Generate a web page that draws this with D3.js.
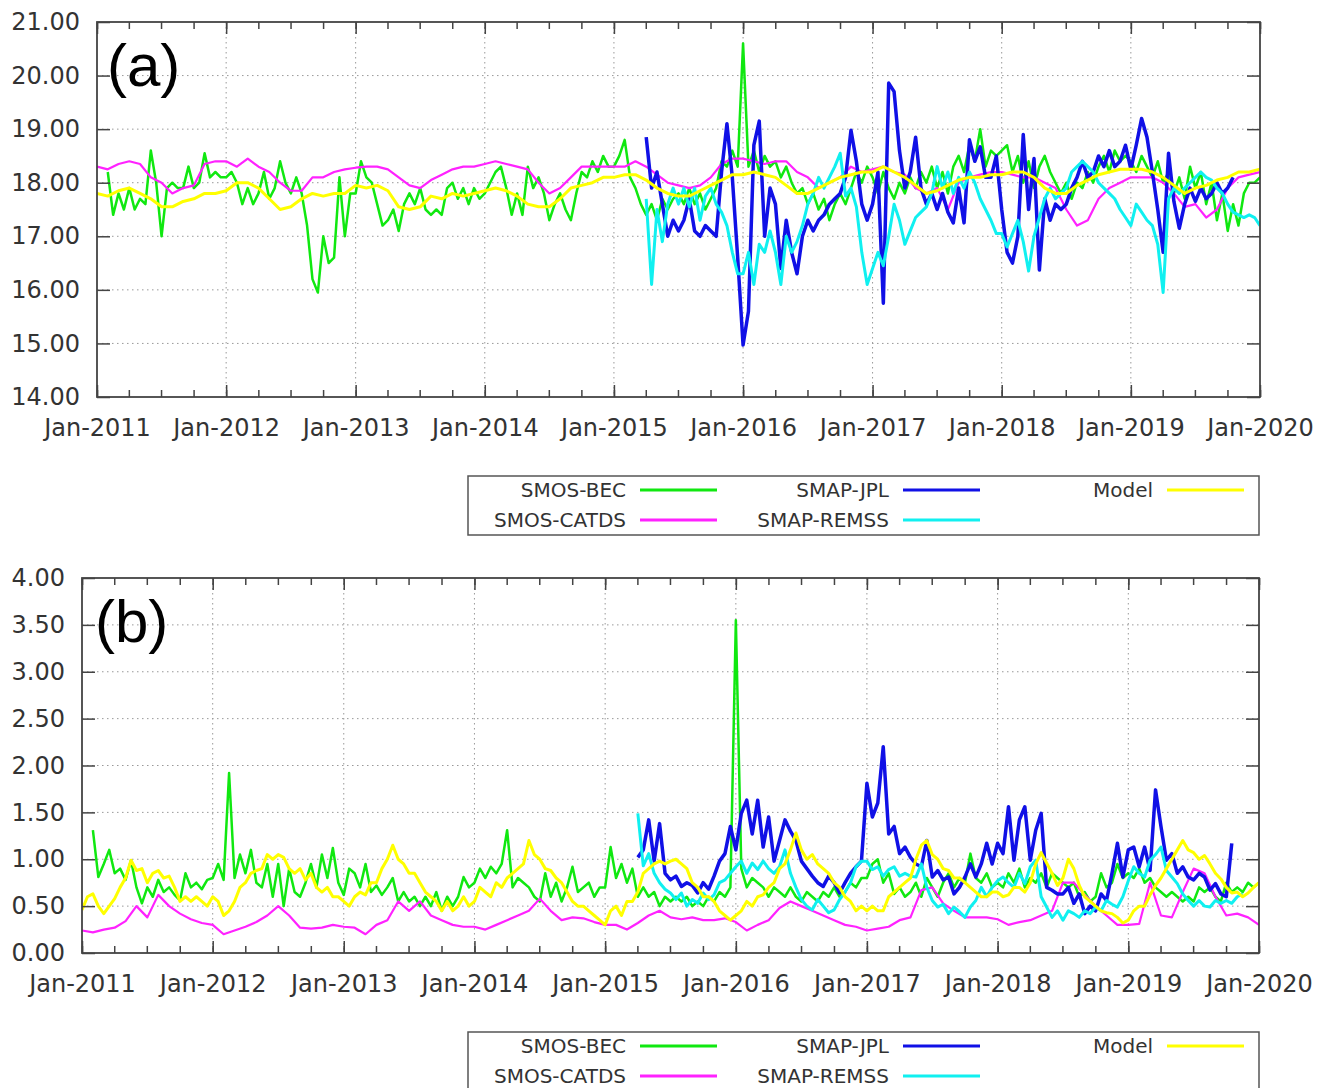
<!DOCTYPE html>
<html>
<head>
<meta charset="UTF-8">
<title>SSS time series</title>
<style>
  body { margin: 0; background: #fff; }
  svg text { font-family: "DejaVu Sans", sans-serif; }
  .axis text { font-size: 24px; fill: #333; }
  .axis line { stroke: #444; stroke-width: 1.5; }
  .axis path { display: none; }
  .grid line { stroke: #999; stroke-width: 1; stroke-dasharray: 1.5,3.5; }
  .legend text { font-size: 20px; fill: #333; }
  .panel-label { font-family: "Liberation Sans", Arial, sans-serif !important; font-size: 60px; fill: #000; }
</style>
</head>
<body>
<svg id="chart" width="1317" height="1088"></svg>

<script src="https://d3js.org/d3.v7.min.js"></script>
<script>
// time step of the series, in years
const HALF = 1 / 24, MONTH = 1 / 12;

// ---- panel (a) ----
const smosBecA = [
  18.2, 17.4, 17.8, 17.5, 17.9, 17.5, 17.7, 17.6, 18.6, 18.0, 17.0, 17.9, 18.0, 17.9, 17.9, 18.3, 17.9, 18.0, 18.55, 18.1, 18.2, 18.1,
  18.1, 18.2, 18.0, 17.6, 17.9, 17.6, 17.8, 18.2, 17.7, 17.9, 18.4, 18.0, 17.8, 18.1, 17.8, 17.2, 16.2, 15.95, 17.0, 16.5, 16.6, 18.1, 17.0, 17.8,
  17.8, 18.4, 18.1, 18.0, 17.6, 17.2, 17.3, 17.5, 17.1, 17.6, 17.8, 17.6, 17.9, 17.5, 17.4, 17.5, 17.4, 17.9, 18.0, 17.7, 17.9, 17.6, 17.9, 17.7,
  17.8, 18.0, 18.2, 18.3, 17.9, 17.4, 17.8, 17.4, 18.3, 17.9, 18.1, 17.8, 17.3, 17.6, 17.8, 17.5, 17.3, 17.8, 18.2, 18.1, 18.4, 18.2, 18.5, 18.3,
  18.3, 18.5, 18.8, 18.1, 17.9, 17.6, 17.4, 17.6, 17.3, 17.7, 17.5, 17.7, 17.8, 17.6, 17.9, 17.6, 17.8, 17.5, 17.7, 17.9, 18.4, 18.3, 18.6, 18.3,
  20.6, 18.3, 18.6, 18.2, 18.5, 18.3, 18.4, 18.1, 18.3, 18.0, 17.8, 17.9, 17.6, 17.8, 17.5, 17.7, 17.3, 17.6, 17.8, 17.6, 17.9, 18.2, 18.0, 18.3,
  18.1, 17.8, 18.2, 17.9, 17.7, 18.0, 17.8, 18.1, 17.9, 18.2, 18.0, 18.3, 17.9, 18.2, 17.8, 18.3, 18.5, 18.2, 18.7, 18.4, 19.0, 18.3, 18.6, 18.5,
  18.6, 18.7, 18.2, 18.5, 18.0, 18.4, 17.9, 18.3, 18.5, 18.2, 18.0, 17.8, 18.0, 17.7, 18.0, 17.9, 18.2, 18.0, 18.3, 18.5, 18.2, 18.6, 18.4, 18.5,
  18.4, 18.2, 18.5, 18.3, 18.1, 18.4, 18.0, 18.2, 17.8, 18.1, 17.7, 18.3, 17.9, 18.2, 17.6, 18.0, 17.3, 17.8, 17.1, 17.6, 17.2, 17.8, 18.0, 18.0,
  18.1
];
const smosCatdsA = [
  18.3, 18.25, 18.35, 18.4, 18.35, 18.1, 18.0, 17.8, 17.9, 17.95, 18.35, 18.4,
  18.4, 18.3, 18.45, 18.3, 18.2, 18.0, 17.85, 17.85, 18.1, 18.1, 18.2, 18.25,
  18.28, 18.3, 18.3, 18.25, 18.1, 17.95, 17.9, 18.05, 18.15, 18.25, 18.3, 18.3,
  18.35, 18.4, 18.35, 18.3, 18.25, 18.0, 17.8, 17.9, 18.1, 18.3, 18.3, 18.3,
  18.3, 18.3, 18.4, 18.3, 18.15, 18.0, 17.95, 17.9, 17.95, 18.1, 18.35, 18.45,
  18.45, 18.4, 18.35, 18.4, 18.4, 18.2, 18.1, 17.9, 18.0, 18.1, 18.3, 18.2,
  18.25, 18.3, 18.2, 18.15, 17.9, 17.8, 17.9, 17.5, 18.0, 18.1, 18.15, 18.2,
  18.2, 18.15, 18.1, 18.1, 18.0, 17.9, 17.5, 17.2, 17.3, 17.7, 17.9, 18.0,
  18.1, 18.1, 18.1, 18.0, 17.8, 17.55, 17.6, 17.35, 17.5, 17.9, 18.1, 18.15,
  18.2
];
const smapJplA = [
  18.85, 17.9, 18.2, 17.6, 17.0, 17.3, 17.1, 17.3, 17.7, 17.1, 17.0, 17.2, 17.1, 17.0, 18.2, 19.1, 18.1, 16.6,
  14.97, 15.6, 18.7, 19.15, 17.0, 17.9, 17.6, 16.4, 17.3, 16.7, 16.3, 17.0, 17.3, 17.1, 17.3, 17.4, 17.6, 17.7, 17.8, 18.1, 18.98, 18.4, 17.6, 17.3,
  17.6, 18.2, 15.75, 19.86, 19.7, 18.6, 17.9, 18.2, 18.85, 17.9, 17.6, 17.8, 17.5, 17.8, 17.45, 17.25, 17.9, 17.25, 18.8, 18.4, 18.67, 18.1, 18.1, 18.5,
  17.5, 16.7, 16.5, 17.0, 18.9, 17.5, 18.45, 16.37, 17.7, 17.3, 17.6, 17.5, 17.6, 17.9, 18.1, 18.4, 18.1, 18.2, 18.5, 18.3, 18.6, 18.3, 18.4, 18.7,
  18.25, 18.7, 19.2, 18.85, 18.2, 17.5, 16.7, 18.55, 17.65, 17.15, 17.6, 17.9, 17.65, 17.9, 17.7, 17.8, 18.0, 17.8, 17.9, 18.1
];
const smapRemssA = [
  17.7, 16.1, 17.5, 16.9, 17.6, 17.9, 17.6, 17.9, 17.55, 17.9, 17.3, 17.75, 17.9, 17.6, 17.45, 17.2, 16.7, 16.3,
  16.3, 16.7, 16.1, 16.85, 16.7, 17.1, 16.7, 16.1, 17.0, 16.7, 16.9, 17.2, 17.6, 17.8, 18.1, 17.9, 18.1, 18.3, 18.55, 17.75, 17.9, 17.55, 16.7, 16.1,
  16.4, 16.7, 16.45, 17.0, 17.6, 17.3, 16.85, 17.1, 17.35, 17.45, 17.55, 17.8, 18.3, 17.9, 18.2, 17.8, 18.1, 17.9, 18.2, 18.0, 17.7, 17.5, 17.3, 17.05,
  17.05, 16.8, 17.05, 17.3, 16.9, 16.35, 17.0, 17.35, 17.7, 17.9, 17.7, 17.8, 17.9, 18.2, 18.3, 18.4, 18.3, 18.2, 18.0, 17.9, 17.8, 17.7, 17.5, 17.35,
  17.2, 17.6, 17.45, 17.3, 17.2, 16.85, 15.95, 17.7, 17.9, 17.8, 17.9, 18.0, 18.1, 18.2, 18.1, 18.05, 17.9, 17.8, 17.6, 17.45, 17.4, 17.35, 17.4, 17.35,
  17.2
];
const modelA = [
  17.8, 17.75, 17.85, 17.9, 17.8, 17.7, 17.55, 17.55, 17.65, 17.7, 17.8, 17.8,
  17.85, 18.0, 18.0, 17.9, 17.7, 17.5, 17.55, 17.7, 17.8, 17.75, 17.8, 17.8,
  17.95, 17.9, 17.95, 17.85, 17.55, 17.5, 17.55, 17.75, 17.7, 17.8, 17.75, 17.8,
  17.85, 17.9, 17.85, 17.75, 17.6, 17.55, 17.55, 17.7, 17.9, 17.95, 18.0, 18.1,
  18.1, 18.15, 18.15, 18.05, 17.9, 17.8, 17.75, 17.75, 17.85, 17.95, 18.05, 18.15,
  18.15, 18.2, 18.15, 18.1, 17.95, 17.8, 17.8, 17.9, 18.0, 18.1, 18.15, 18.2,
  18.2, 18.3, 18.2, 18.1, 17.95, 17.8, 17.85, 17.95, 18.05, 18.1, 18.1, 18.15,
  18.15, 18.2, 18.2, 18.1, 17.9, 17.8, 17.8, 17.95, 18.05, 18.15, 18.2, 18.25,
  18.25, 18.25, 18.2, 18.1, 17.95, 17.8, 17.9, 17.95, 18.05, 18.1, 18.2, 18.2,
  18.25
];

// ---- panel (b) ----
const smosBecB = [
  1.31, 0.81, 0.95, 1.1, 0.85, 0.9, 0.78, 0.99, 0.7, 0.53, 0.7, 0.6, 0.78, 0.65, 0.7, 0.62, 0.56, 0.85, 0.7, 0.75, 0.68, 0.78,
  0.8, 0.95, 0.78, 1.92, 0.8, 1.05, 0.85, 1.1, 0.75, 0.7, 0.95, 0.6, 0.95, 0.5, 0.9, 0.65, 0.6, 0.75, 0.95, 0.7, 1.05, 0.8, 1.12, 0.75,
  0.62, 0.9, 0.85, 0.7, 0.95, 0.65, 0.72, 0.62, 0.7, 0.8, 0.55, 0.65, 0.55, 0.6, 0.5, 0.6, 0.5, 0.65, 0.45, 0.6, 0.5, 0.6, 0.81, 0.7,
  0.75, 0.9, 0.8, 0.92, 0.85, 0.95, 1.31, 0.7, 0.8, 0.75, 0.7, 0.6, 0.55, 0.85, 0.6, 0.75, 0.55, 0.7, 0.92, 0.65, 0.7, 0.75, 0.6, 0.7,
  0.7, 1.13, 0.8, 0.95, 0.75, 0.9, 0.6, 0.7, 0.6, 0.65, 0.5, 0.6, 0.55, 0.6, 0.55, 0.6, 0.5, 0.55, 0.5, 0.6, 0.55, 0.65, 0.6, 0.7,
  3.55, 0.9, 0.7, 0.8, 0.75, 0.7, 0.6, 0.7, 0.65, 0.6, 0.7, 0.6, 0.55, 0.65, 0.6, 0.55, 0.65, 0.6, 0.7, 0.6, 0.65, 0.75, 0.7, 0.8,
  0.8, 0.95, 1.0, 0.75, 0.85, 0.63, 0.7, 0.6, 0.65, 0.75, 0.6, 0.8, 0.7, 0.6, 0.75, 0.85, 0.7, 0.8, 0.75, 1.06, 0.8, 0.75, 0.85, 0.7,
  0.75, 0.7, 0.85, 0.75, 0.9, 0.7, 0.8, 0.75, 0.85, 0.7, 0.85, 0.8, 0.75, 0.7, 0.75, 0.6, 0.65, 0.55, 0.6, 0.85, 0.7, 0.75, 0.95, 0.8,
  0.85, 0.8, 0.9, 0.75, 0.8, 0.7, 0.65, 0.6, 0.65, 0.6, 0.55, 0.6, 0.55, 0.7, 0.65, 0.7, 0.6, 0.55, 0.75, 0.65, 0.7, 0.65, 0.75, 0.7,
  0.75
];
const smosCatdsB = [
  0.24, 0.22, 0.25, 0.27, 0.34, 0.5, 0.38, 0.62, 0.5, 0.42, 0.36, 0.32,
  0.3, 0.2, 0.24, 0.28, 0.33, 0.4, 0.5, 0.4, 0.27, 0.26, 0.27, 0.3,
  0.28, 0.27, 0.2, 0.3, 0.35, 0.55, 0.45, 0.55, 0.4, 0.35, 0.3, 0.28,
  0.28, 0.25, 0.3, 0.35, 0.4, 0.45, 0.58, 0.45, 0.35, 0.38, 0.37, 0.33,
  0.3, 0.3, 0.25, 0.32, 0.4, 0.45, 0.38, 0.36, 0.38, 0.35, 0.35, 0.37,
  0.33, 0.24, 0.3, 0.35, 0.48, 0.55, 0.5, 0.45, 0.4, 0.35, 0.3, 0.28,
  0.24, 0.26, 0.28, 0.35, 0.38, 0.67, 0.7, 0.53, 0.45, 0.38, 0.38, 0.38,
  0.36, 0.3, 0.33, 0.35, 0.4, 0.45, 0.75, 0.75, 0.62, 0.5, 0.4, 0.3,
  0.3, 0.31, 0.75, 0.4, 0.38, 0.65, 0.9, 0.85, 0.6, 0.4, 0.42, 0.38,
  0.3
];
const smapJplB = [
  1.02, 1.1, 1.42, 0.98, 1.38, 0.85, 0.78, 0.82, 0.71, 0.75, 0.72, 0.64, 0.75, 0.68, 0.82, 0.98, 1.06, 1.35,
  1.1, 1.49, 1.63, 1.27, 1.63, 1.13, 1.45, 0.98, 1.2, 1.42, 1.3, 1.2, 0.98, 0.9, 0.82, 0.75, 0.71, 0.82, 0.75, 0.64, 0.75, 0.85, 0.92, 0.98,
  1.81, 1.45, 1.6, 2.2, 1.27, 1.35, 1.06, 1.13, 1.02, 0.95, 0.92, 1.2, 0.81, 0.88, 0.78, 0.81, 0.63, 0.7, 0.81, 0.95, 0.81, 0.95, 1.17, 0.95,
  1.17, 1.06, 1.56, 0.99, 1.42, 1.56, 0.99, 1.31, 1.49, 0.7, 0.67, 0.63, 0.63, 0.7, 0.53, 0.63, 0.42, 0.5, 0.45, 0.63, 0.56, 0.85, 1.17, 0.81,
  1.1, 1.13, 0.92, 1.13, 0.88, 1.74, 1.35, 0.99, 1.06, 0.85, 0.92, 0.81, 0.78, 0.85, 0.81, 0.67, 0.74, 0.63, 0.6, 1.17
];
const smapRemssB = [
  1.49, 0.93, 1.06, 0.85, 0.75, 0.68, 0.64, 0.57, 0.64, 0.5, 0.57, 0.53, 0.64, 0.57, 0.62, 0.75, 0.78, 0.85,
  0.92, 0.98, 0.85, 0.96, 0.89, 0.98, 0.9, 0.85, 0.92, 1.1, 0.85, 0.7, 0.57, 0.5, 0.46, 0.57, 0.5, 0.43, 0.46, 0.57, 0.65, 0.75, 0.92, 0.98,
  0.98, 0.89, 0.92, 0.82, 0.89, 0.92, 0.82, 0.85, 0.82, 0.81, 0.95, 0.7, 0.56, 0.49, 0.52, 0.42, 0.49, 0.44, 0.38, 0.49, 0.56, 0.7, 0.6, 0.7,
  0.77, 0.81, 0.75, 0.7, 0.85, 0.74, 0.92, 0.99, 0.6, 0.49, 0.38, 0.45, 0.35, 0.45, 0.42, 0.38, 0.45, 0.42, 0.49, 0.45, 0.56, 0.52, 0.49, 0.6,
  0.77, 0.92, 0.85, 0.81, 0.99, 1.05, 1.13, 0.88, 0.81, 0.74, 0.63, 0.56, 0.5, 0.56, 0.5, 0.49, 0.56, 0.53, 0.56, 0.53, 0.6, 0.63
];
const modelB = [
  0.46, 0.6, 0.63, 0.5, 0.42, 0.5, 0.58, 0.7, 0.8, 0.99, 0.88, 0.9, 0.75, 0.85, 0.88, 0.8, 0.82, 0.7, 0.55, 0.6, 0.55, 0.6, 0.55, 0.5,
  0.6, 0.55, 0.4, 0.45, 0.55, 0.7, 0.75, 0.85, 0.88, 0.9, 1.05, 1.0, 1.05, 1.02, 0.9, 0.85, 0.9, 0.78, 0.85, 0.7, 0.65, 0.7, 0.6, 0.6,
  0.55, 0.5, 0.6, 0.65, 0.62, 0.75, 0.75, 0.9, 1.0, 1.15, 1.0, 0.95, 0.85, 0.85, 0.75, 0.65, 0.6, 0.55, 0.45, 0.55, 0.45, 0.5, 0.6, 0.5,
  0.55, 0.7, 0.65, 0.6, 0.75, 0.7, 0.8, 0.85, 0.9, 0.95, 1.2, 1.05, 1.0, 0.9, 0.88, 0.8, 0.75, 0.65, 0.55, 0.5, 0.5, 0.45, 0.4, 0.35,
  0.3, 0.45, 0.5, 0.4, 0.55, 0.55, 0.65, 0.85, 0.9, 0.95, 0.98, 0.95, 0.98, 1.0, 0.95, 0.9, 0.75, 0.7, 0.6, 0.6, 0.55, 0.45, 0.4, 0.35,
  0.4, 0.45, 0.55, 0.5, 0.6, 0.62, 0.7, 0.75, 0.9, 0.95, 1.1, 1.28, 1.1, 1.0, 1.05, 0.95, 0.9, 0.85, 0.75, 0.7, 0.6, 0.55, 0.45, 0.5,
  0.45, 0.5, 0.45, 0.45, 0.6, 0.65, 0.7, 0.75, 0.8, 1.0, 1.15, 1.2, 1.05, 1.0, 0.9, 0.88, 0.8, 0.8, 0.75, 0.7, 0.65, 0.6, 0.6, 0.65,
  0.65, 0.6, 0.62, 0.7, 0.7, 0.65, 0.75, 0.95, 1.07, 0.96, 0.85, 0.72, 0.8, 1.0, 0.9, 0.72, 0.6, 0.55, 0.5, 0.45, 0.43, 0.42, 0.38, 0.32,
  0.35, 0.45, 0.5, 0.5, 0.62, 0.72, 0.8, 0.9, 1.0, 1.1, 1.2, 1.1, 1.07, 1.0, 1.04, 0.95, 0.85, 0.79, 0.7, 0.64, 0.65, 0.6, 0.64, 0.7,
  0.75
];

const seriesNames = ["SMOS-BEC", "SMOS-CATDS", "SMAP-JPL", "SMAP-REMSS", "Model"];
const seriesColors = ["#10e810", "#ff22ff", "#1010e6", "#10f0f0", "#ffff00"];
const seriesWidths = [2.5, 2.2, 3.5, 3, 3];
const seriesStart = [2011 + 2 / 24, 2011, 2015 + 6 / 24, 2015 + 6 / 24, 2011];

const panels = [
  {
    label: "(a)", labelX: 107, labelY: 86,
    left: 97, top: 22, right: 1260, bottom: 397,
    yDomain: [14, 21], yStep: 1, legendTop: 476,
    data: [smosBecA, smosCatdsA, smapJplA, smapRemssA, modelA],
    steps: [HALF, MONTH, HALF, HALF, MONTH]
  },
  {
    label: "(b)", labelX: 95, labelY: 642,
    left: 82, top: 578, right: 1259, bottom: 953,
    yDomain: [0, 4], yStep: 0.5, legendTop: 1032,
    data: [smosBecB, smosCatdsB, smapJplB, smapRemssB, modelB],
    steps: [HALF, MONTH, HALF, HALF, HALF]
  }
];

// decimal year -> Date
function toDate(t) {
  const y = Math.floor(t + 1e-9);
  const a = Date.UTC(y, 0, 1), b = Date.UTC(y + 1, 0, 1);
  return new Date(a + (t - y) * (b - a));
}

const svg = d3.select("#chart");
const t0 = new Date(Date.UTC(2011, 0, 1)), t1 = new Date(Date.UTC(2020, 0, 1));

panels.forEach((p, pi) => {
  const x = d3.scaleUtc().domain([t0, t1]).range([p.left, p.right]);
  const y = d3.scaleLinear().domain(p.yDomain).range([p.bottom, p.top]);
  const yTicks = d3.range(p.yDomain[0], p.yDomain[1] + 1e-6, p.yStep);
  const years = d3.utcYear.range(t0, d3.utcDay.offset(t1, 1));
  const quarters = d3.utcMonth.every(3).range(t0, d3.utcDay.offset(t1, 1));

  const g = svg.append("g").attr("class", "panel" + pi);

  // grid
  const grid = g.append("g").attr("class", "grid");
  grid.selectAll(".gx").data(years.slice(1, -1)).join("line")
    .attr("x1", d => x(d)).attr("x2", d => x(d))
    .attr("y1", p.top).attr("y2", p.bottom);
  grid.selectAll(".gy").data(yTicks.slice(1, -1)).join("line")
    .attr("x1", p.left).attr("x2", p.right)
    .attr("y1", d => y(d)).attr("y2", d => y(d));

  // series
  const clipId = "clip" + pi;
  svg.append("clipPath").attr("id", clipId).append("rect")
    .attr("x", p.left).attr("y", p.top)
    .attr("width", p.right - p.left).attr("height", p.bottom - p.top);

  const line = d3.line().x(d => x(d.date)).y(d => y(d.value));
  p.data.forEach((vals, i) => {
    const pts = vals.map((v, k) => ({ date: toDate(seriesStart[i] + k * p.steps[i]), value: v }));
    g.append("path")
      .datum(pts)
      .attr("clip-path", `url(#${clipId})`)
      .attr("fill", "none")
      .attr("stroke", seriesColors[i])
      .attr("stroke-width", seriesWidths[i])
      .attr("stroke-linejoin", "round")
      .attr("d", line);
  });

  // axes: major + minor ticks on all four sides, pointing inward
  g.append("g").attr("class", "axis")
    .attr("transform", `translate(0,${p.bottom})`)
    .call(d3.axisBottom(x).tickValues(years).tickFormat(d3.utcFormat("%b-%Y")).tickSize(-12).tickPadding(22));
  g.append("g").attr("class", "axis")
    .attr("transform", `translate(0,${p.bottom})`)
    .call(d3.axisBottom(x).tickValues(quarters).tickFormat("").tickSize(-7));
  g.append("g").attr("class", "axis")
    .attr("transform", `translate(0,${p.top})`)
    .call(d3.axisTop(x).tickValues(years).tickFormat("").tickSize(-12));
  g.append("g").attr("class", "axis")
    .attr("transform", `translate(0,${p.top})`)
    .call(d3.axisTop(x).tickValues(quarters).tickFormat("").tickSize(-7));
  g.append("g").attr("class", "axis")
    .attr("transform", `translate(${p.left},0)`)
    .call(d3.axisLeft(y).tickValues(yTicks).tickFormat(d3.format(".2f")).tickSize(-13).tickPadding(17));
  g.append("g").attr("class", "axis")
    .attr("transform", `translate(${p.right},0)`)
    .call(d3.axisRight(y).tickValues(yTicks).tickFormat("").tickSize(-13));

  // frame
  g.append("rect")
    .attr("x", p.left).attr("y", p.top)
    .attr("width", p.right - p.left).attr("height", p.bottom - p.top)
    .attr("fill", "none").attr("stroke", "#444").attr("stroke-width", 1.8);

  // panel label
  g.append("text")
    .attr("class", "panel-label")
    .attr("x", p.labelX).attr("y", p.labelY)
    .text(p.label);

  // legend
  const lg = g.append("g").attr("class", "legend");
  lg.append("rect")
    .attr("x", 468).attr("y", p.legendTop)
    .attr("width", 791).attr("height", 59)
    .attr("fill", "#fff").attr("stroke", "#555").attr("stroke-width", 1.5);
  const colEnds = [626, 889, 1153];
  seriesNames.forEach((name, i) => {
    const col = Math.floor(i / 2), row = i % 2;
    const cy = p.legendTop + 14 + row * 30;
    lg.append("text")
      .attr("x", colEnds[col]).attr("y", cy)
      .attr("dy", "0.35em").attr("text-anchor", "end")
      .text(name);
    lg.append("line")
      .attr("x1", colEnds[col] + 14).attr("x2", colEnds[col] + 91)
      .attr("y1", cy).attr("y2", cy)
      .attr("stroke", seriesColors[i]).attr("stroke-width", 3);
  });
});
</script>
</body>
</html>
